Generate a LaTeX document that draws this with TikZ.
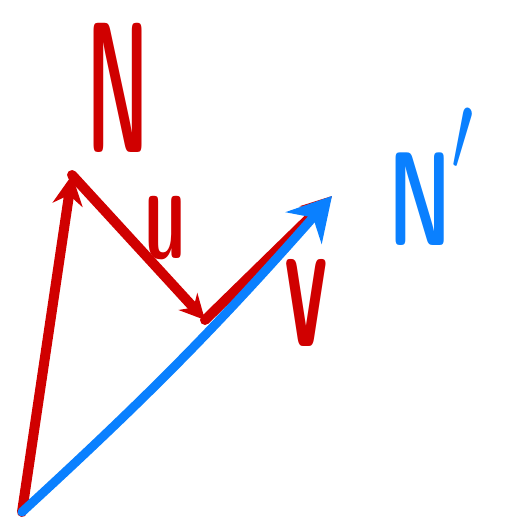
\documentclass[tikz,border=0pt]{standalone}
\usetikzlibrary{arrows.meta}
\definecolor{inkred}{RGB}{208,0,0}
\definecolor{inkblue}{RGB}{10,128,255}
\tikzset{
  vecred/.style={draw=inkred,line width=0.2cm,line cap=round,line join=round},
  vecblue/.style={draw=inkblue,line width=0.18cm,line cap=round,line join=round},
  lbl/.style={inner sep=0pt,font=\sffamily\fontseries{sbc}\selectfont}
}
\begin{document}
\begin{tikzpicture}[x=0.02cm,y=-0.02cm]
    \useasboundingbox (0,0) rectangle (508,522);
    % points of the sketch
    \coordinate (O) at (22,512);
    \coordinate (Ntip) at (72,175);
    \coordinate (Ubot) at (205,320);
    \coordinate (Vtip) at (332,196);
    % red vectors
    \draw [vecred,-{Stealth[length=0.6cm,width=0.6cm]}] (O) -- (Ntip);
    \draw [vecred,-{Stealth[length=0.5cm,width=0.5cm]}] (Ntip) -- (Ubot);
    \draw [vecred,-{Stealth[length=0.6cm,width=0.6cm]}] (Ubot) -- (Vtip);
    % blue vector on top
    \draw [vecblue,-{Stealth[length=0.85cm,width=0.95cm]}] (O) to[bend right=3] (Vtip);
    % labels
    \node [lbl,text=inkred,xscale=0.5,anchor=base] (labN) at (118,152) {\fontsize{106}{106}\selectfont N};
    \node [lbl,text=inkred,xscale=0.65,anchor=base] (labU) at (165,258) {\fontsize{75}{75}\selectfont u};
    \node [lbl,text=inkred,xscale=0.55,anchor=base] (labV) at (306,346) {\fontsize{105}{105}\selectfont v};
    \node [lbl,text=inkblue,xscale=0.7,anchor=base west] (labNp) at (388,245) {\fontsize{76}{76}\selectfont N\raisebox{0.55em}{\scalebox{2.6}{$\prime$}}};
\end{tikzpicture}
\end{document}
